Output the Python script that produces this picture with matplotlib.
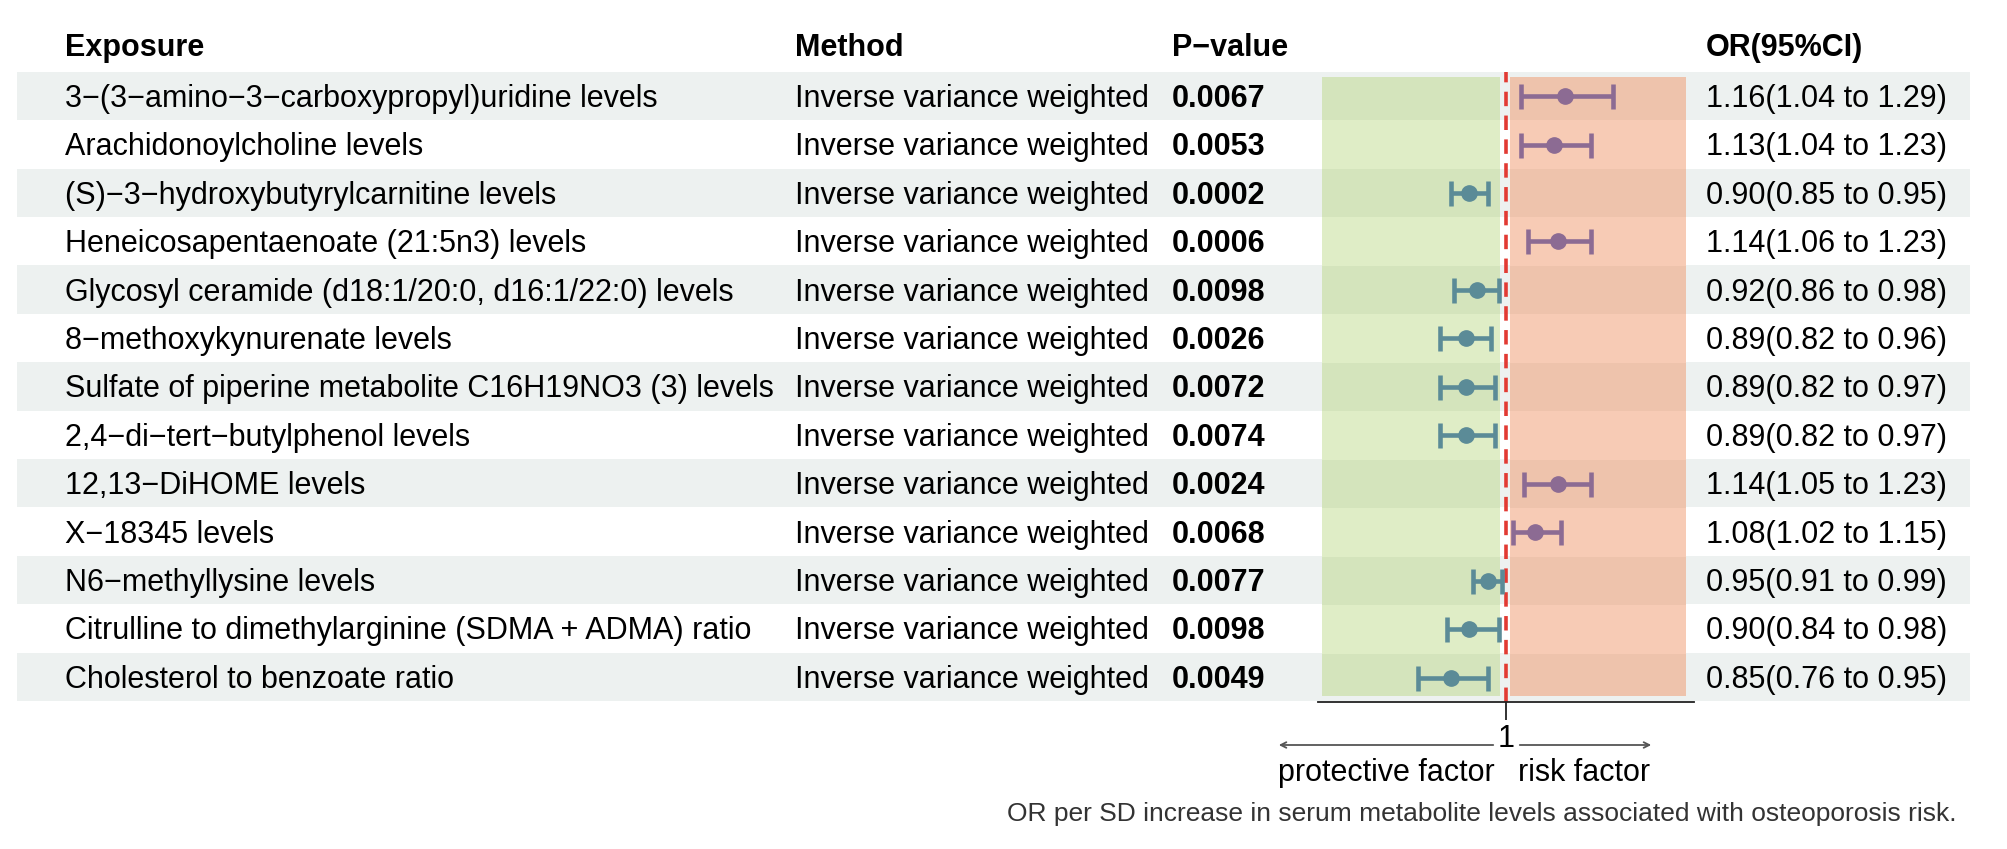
import numpy as np
import matplotlib.pyplot as plt

plt.rcParams["font.family"] = ["Liberation Sans", "DejaVu Sans"]

exposures = [
    "3\u2212(3\u2212amino\u22123\u2212carboxypropyl)uridine levels",
    "Arachidonoylcholine levels",
    "(S)\u22123\u2212hydroxybutyrylcarnitine levels",
    "Heneicosapentaenoate (21:5n3) levels",
    "Glycosyl ceramide (d18:1/20:0, d16:1/22:0) levels",
    "8\u2212methoxykynurenate levels",
    "Sulfate of piperine metabolite C16H19NO3 (3) levels",
    "2,4\u2212di\u2212tert\u2212butylphenol levels",
    "12,13\u2212DiHOME levels",
    "X\u221218345 levels",
    "N6\u2212methyllysine levels",
    "Citrulline to dimethylarginine (SDMA + ADMA) ratio",
    "Cholesterol to benzoate ratio",
]
method = "Inverse variance weighted"
pvals = ["0.0067", "0.0053", "0.0002", "0.0006", "0.0098", "0.0026", "0.0072",
         "0.0074", "0.0024", "0.0068", "0.0077", "0.0098", "0.0049"]
or_est = [1.16, 1.13, 0.90, 1.14, 0.92, 0.89, 0.89, 0.89, 1.14, 1.08, 0.95, 0.90, 0.85]
or_lo = [1.04, 1.04, 0.85, 1.06, 0.86, 0.82, 0.82, 0.82, 1.05, 1.02, 0.91, 0.84, 0.76]
or_hi = [1.29, 1.23, 0.95, 1.23, 0.98, 0.96, 0.97, 0.97, 1.23, 1.15, 0.99, 0.98, 0.95]

W, H = 2008, 849
fig = plt.figure(figsize=(W / 100, H / 100), dpi=100)

# table layer in pixel coordinates
tab = fig.add_axes([0, 0, 1, 1])
tab.set_xlim(0, W); tab.set_ylim(H, 0); tab.axis("off")

n = len(exposures)
y0, dy = 96, 48.4
row_y = y0 + np.arange(n) * dy
FS = 22
toff = 3  # text sits a little low in its band

for i, y in enumerate(row_y):
    if i % 2 == 0:
        tab.add_patch(plt.Rectangle((17, y - dy / 2), 1953, dy,
                                    facecolor="#EDF1F0", edgecolor="none", zorder=0))
    tab.text(65, y + toff, exposures[i], fontsize=FS, va="center", ha="left")
    tab.text(795, y + toff, method, fontsize=FS, va="center", ha="left")
    tab.text(1172, y + toff, pvals[i], fontsize=FS, va="center", ha="left", weight="bold")
    tab.text(1706, y + toff, f"{or_est[i]:.2f}({or_lo[i]:.2f} to {or_hi[i]:.2f})",
             fontsize=FS, va="center", ha="left")

for x, lab in [(65, "Exposure"), (795, "Method"), (1172, "P\u2212value"), (1706, "OR(95%CI)")]:
    tab.text(x, 45 + toff, lab, fontsize=FS, va="center", ha="left", weight="bold")

# forest panel
x_left, x_right = 0.49, 1.51
px_per = 368
xl = 1506 + (x_left - 1) * px_per
xr = 1506 + (x_right - 1) * px_per
top = y0 - dy / 2
bot = row_y[-1] + dy / 2 + 1
ax = fig.add_axes([xl / W, 1 - bot / H, (xr - xl) / W, (bot - top) / H])
ax.patch.set_alpha(0)
ax.set_xlim(x_left, x_right)
ax.set_ylim(n + 0.5, 0.5)

rows = np.arange(1, n + 1)
tops = np.clip(rows - 0.5, 0.6, None)
bots = np.clip(rows + 0.5, None, n + 0.38)
green = ["#D4E4BC" if i % 2 == 0 else "#DFEDC6" for i in range(n)]
red = ["#EEC3AC" if i % 2 == 0 else "#F7CBB5" for i in range(n)]
ax.barh((tops + bots) / 2, 0.985 - 0.5, left=0.5, height=bots - tops, color=green, zorder=1)
ax.barh((tops + bots) / 2, 1.49 - 1.012, left=1.012, height=bots - tops, color=red, zorder=1)
ax.axvline(1, color="#E23A33", lw=2.6, ls=(0, (4, 2.6)), zorder=2)

est = np.array(or_est)
lo = np.array(or_lo)
hi = np.array(or_hi)
for r, e, l, h in zip(rows, est, lo, hi):
    c = "#8C6B93" if e > 1 else "#5B8B97"
    ax.errorbar(e, r, xerr=[[e - l], [h - e]], fmt="o", color=c, ms=11,
                elinewidth=3.3, capsize=9, capthick=3.3, zorder=3)

for s in ["top", "right", "left"]:
    ax.spines[s].set_visible(False)
ax.spines["bottom"].set_linewidth(1.3)
ax.spines["bottom"].set_color("#222222")
ax.set_yticks([])
ax.set_xticks([1])
ax.set_xticklabels(["1"], fontsize=FS)
ax.tick_params(axis="x", length=13, width=1.3, color="#222222", pad=3)

# direction arrows and labels
tab.annotate("", xy=(1276, 745), xytext=(1496, 745),
             arrowprops=dict(arrowstyle="->", lw=1.3, color="#555555"))
tab.annotate("", xy=(1654, 745), xytext=(1517, 745),
             arrowprops=dict(arrowstyle="->", lw=1.3, color="#555555"))
tab.text(1386, 773, "protective factor", fontsize=22, ha="center", va="center")
tab.text(1584, 773, "risk factor", fontsize=22, ha="center", va="center")
tab.text(1957, 814, "OR per SD increase in serum metabolite levels associated with osteoporosis risk.",
         fontsize=19, ha="right", va="center", color="#333333")

fig.savefig("out.png", dpi=100)
